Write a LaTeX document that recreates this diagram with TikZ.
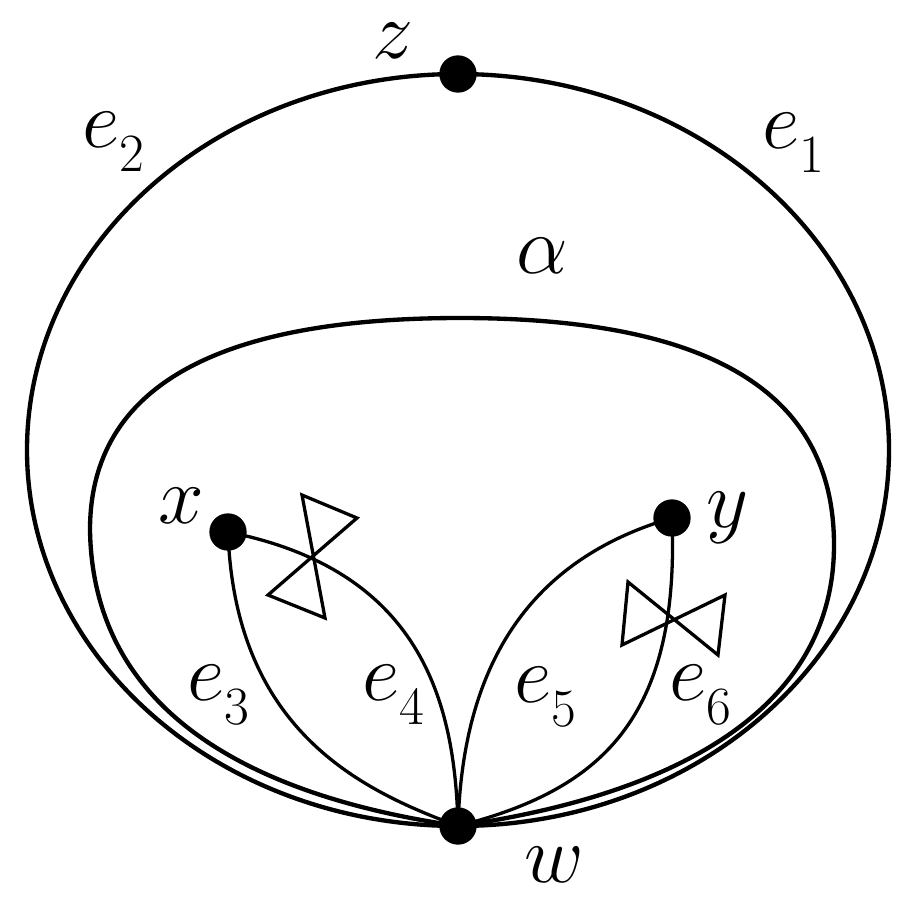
\RequirePackage{fix-cm}
\documentclass[tikz,border=0pt]{standalone}
\newcommand{\bigit}[1]{{\fontsize{70}{70}\selectfont$#1$}}
\newcommand{\elab}[1]{\bigit{e}{\fontsize{46}{46}\selectfont\raisebox{-21pt}{#1}}}
\begin{document}
\begin{tikzpicture}[x=0.3mm,y=-0.3mm,
  vtx/.style={circle,fill=black,inner sep=0pt,minimum size=11.2mm},
  bigcurve/.style={line width=3.7pt},
  edgeline/.style={line width=2.8pt},
  bowtie/.style={line width=2.8pt,line join=miter},
  lab/.style={anchor=base west,inner sep=0pt}]
\useasboundingbox (0,0) rectangle (900,900);
% vertices
\node[vtx] (z) at (458,74) {};
\node[vtx] (x) at (228,532) {};
\node[vtx] (y) at (672,518) {};
\node[vtx] (w) at (458,826) {};
% outer edges e1, e2
\draw[bigcurve] (w.center) arc[start angle=90,end angle=-90,x radius=431,y radius=376];
\draw[bigcurve] (w.center) arc[start angle=90,end angle=270,x radius=431,y radius=376];
% alpha loop
\draw[bigcurve] (w.center) .. controls (265,798) and (93,720) .. (90,530)
  .. controls (90,385) and (220,318) .. (460,318)
  .. controls (715,318) and (834,395) .. (834,545)
  .. controls (834,720) and (655,798) .. (w.center);
% inner edges
\draw[edgeline] (x.center) .. controls (235,730) and (360,790) .. (w.center);
\draw[edgeline] (x.center) .. controls (420,570) and (455,700) .. (w.center);
\draw[edgeline] (y.center) .. controls (510,565) and (462,690) .. (w.center);
\draw[edgeline] (y.center) .. controls (680,720) and (600,790) .. (w.center);
% bowties
\draw[bowtie] (302,495) -- (357,518) -- (268,595) -- (325,618) -- cycle;
\draw[bowtie] (628,582) -- (622,645) -- (725,595) -- (718,655) -- cycle;
% labels
\node[lab] (lz) at (372,58) {\bigit{z}};
\node[lab] (lx) at (158,523) {\bigit{x}};
\node[lab] (ly) at (706,527) {\bigit{y}};
\node[lab] (lw) at (524,882) {\bigit{w}};
\node[lab] (lalpha) at (516,273) {\bigit{\alpha}};
\node[lab] (le1) at (762,148) {\elab{1}};
\node[lab] (le2) at (82,147) {\elab{2}};
\node[lab] (le3) at (187,700) {\elab{3}};
\node[lab] (le4) at (362,700) {\elab{4}};
\node[lab] (le5) at (514,702) {\elab{5}};
\node[lab] (le6) at (669,700) {\elab{6}};
\end{tikzpicture}
\end{document}
